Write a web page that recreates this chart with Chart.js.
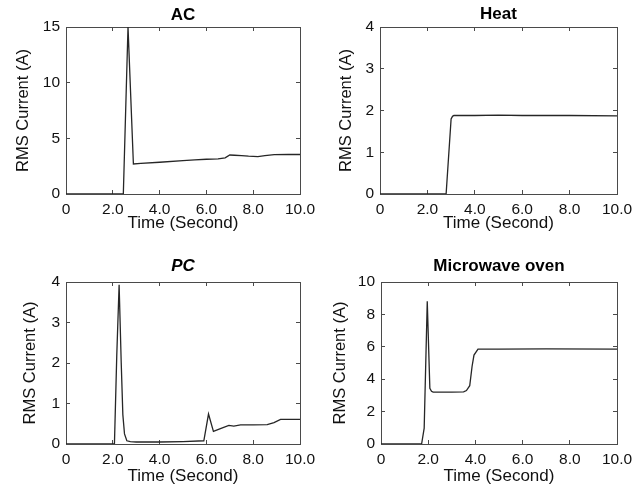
<!DOCTYPE html>
<html>
<head>
<meta charset="utf-8">
<title>RMS current of appliances</title>
<script src="https://cdn.jsdelivr.net/npm/chart.js@4.4.1/dist/chart.umd.min.js"></script>
<style>
  html, body { margin: 0; padding: 0; background: #fff; }
  #wrap { position: relative; width: 638px; height: 488px; }
  #wrap canvas { position: absolute; }
</style>
</head>
<body>
<div id="wrap">
  <canvas id="ac" width="319" height="244" style="left:0;top:0"></canvas>
  <canvas id="heat" width="319" height="244" style="left:319px;top:0"></canvas>
  <canvas id="pc" width="319" height="244" style="left:0;top:244px"></canvas>
  <canvas id="mw" width="319" height="244" style="left:319px;top:244px"></canvas>
</div>
<script>
// time ticks shared by every panel
const timeTicks = [0, 2, 4, 6, 8, 10];

// AC
const acTime    = [0, 2.45, 2.65, 2.88, 3.2, 4.0, 5.0, 5.5, 6.0, 6.5, 6.8, 7.0, 7.2, 7.5, 7.8, 8.2, 8.5, 8.9, 9.5, 10];
const acCurrent = [0, 0, 15, 2.7, 2.75, 2.85, 3.0, 3.06, 3.12, 3.15, 3.25, 3.5, 3.48, 3.45, 3.4, 3.36, 3.45, 3.54, 3.55, 3.55];

// Heat
const heatTime    = [0, 2.79, 3.0, 3.06, 3.12, 4.0, 5.0, 6.0, 8.0, 10];
const heatCurrent = [0, 0, 1.8, 1.86, 1.88, 1.88, 1.89, 1.88, 1.88, 1.87];

// PC
const pcTime    = [0, 2.07, 2.17, 2.27, 2.36, 2.43, 2.5, 2.6, 2.75, 3.0, 4.0, 5.0, 5.89, 6.09, 6.3, 6.6, 6.96, 7.17, 7.46, 8.0, 8.6, 8.89, 9.17, 10];
const pcCurrent = [0, 0, 2.2, 3.93, 2.0, 0.72, 0.25, 0.08, 0.06, 0.05, 0.05, 0.06, 0.08, 0.74, 0.31, 0.38, 0.46, 0.44, 0.47, 0.47, 0.48, 0.53, 0.61, 0.61];

// Microwave oven
const mwTime    = [0, 1.72, 1.83, 1.96, 2.07, 2.14, 2.21, 2.5, 3.0, 3.5, 3.62, 3.76, 3.86, 3.94, 4.11, 5, 7, 10];
const mwCurrent = [0, 0, 0.98, 8.81, 3.44, 3.25, 3.2, 3.2, 3.2, 3.22, 3.3, 3.6, 4.8, 5.49, 5.86, 5.86, 5.87, 5.86];

const FONT = '"Liberation Sans", Arial, Helvetica, sans-serif';
const BOX = '#4a4a4a';

function makePanel(id, p) {
  const data = p.time.map((t, i) => ({ x: t, y: p.current[i] }));
  // matlab style: short tick marks pointing into the plot box, no grid
  const inward = () => ({ drawOnChartArea: false, drawTicks: true, tickLength: -4, color: BOX, lineWidth: 1 });
  const edge = () => ({ display: true, color: BOX, width: 1 });
  const noPad = s => { s.paddingLeft = 0; s.paddingRight = 0; s.paddingTop = 0; s.paddingBottom = 0; };

  new Chart(document.getElementById(id), {
    type: 'line',
    data: {
      datasets: [{
        data: data,
        borderColor: '#262626',
        borderWidth: 1.3,
        pointRadius: 0,
        tension: 0,
        fill: false
      }]
    },
    options: {
      responsive: false,
      animation: false,
      layout: { padding: { left: 0, top: 0, bottom: 0, right: p.padRight } },
      plugins: {
        legend: { display: false },
        tooltip: { enabled: false },
        title: {
          display: true,
          fullSize: false,
          text: p.title,
          color: '#000',
          font: { family: FONT, size: 17, weight: 'bold', style: p.italic ? 'italic' : 'normal', lineHeight: 1.2 },
          padding: { top: p.titleTop, bottom: p.titleBottom }
        }
      },
      scales: {
        x: {
          type: 'linear',
          position: 'bottom',
          min: 0, max: 10,
          afterBuildTicks: s => { s.ticks = timeTicks.map(v => ({ value: v })); },
          ticks: {
            color: '#111', padding: 10, maxRotation: 0, autoSkip: false,
            font: { family: FONT, size: 15.5 },
            callback: v => v === 0 ? '0' : v.toFixed(1)
          },
          grid: inward(),
          border: edge(),
          title: {
            display: true, text: 'Time (Second)', color: '#111',
            font: { family: FONT, size: 17 },
            padding: { top: 0, bottom: p.xTitlePad }
          },
          afterFit: s => { s.height = p.xHeight; noPad(s); }
        },
        x2: {
          type: 'linear',
          position: 'top',
          min: 0, max: 10,
          afterBuildTicks: s => { s.ticks = timeTicks.map(v => ({ value: v })); },
          ticks: { display: false },
          grid: inward(),
          border: edge(),
          afterFit: s => { s.height = 0; noPad(s); }
        },
        y: {
          position: 'left',
          min: 0, max: p.yMax,
          ticks: {
            stepSize: p.yStep, color: '#111', padding: 10,
            font: { family: FONT, size: 15.5 }
          },
          grid: inward(),
          border: edge(),
          title: {
            display: true, text: 'RMS Current (A)', color: '#111',
            font: { family: FONT, size: 16.5 },
            padding: { top: p.yTitlePad, bottom: 0 }
          },
          afterFit: s => { s.width = p.yWidth; noPad(s); }
        },
        y2: {
          position: 'right',
          min: 0, max: p.yMax,
          ticks: { display: false, stepSize: p.yStep },
          grid: inward(),
          border: edge(),
          afterFit: s => { s.width = 0; noPad(s); }
        }
      }
    }
  });
}

makePanel('ac', {
  title: 'AC', time: acTime, current: acCurrent, yMax: 15, yStep: 5,
  yWidth: 66, padRight: 19, xHeight: 50, titleTop: 5, titleBottom: 1.6,
  xTitlePad: 10, yTitlePad: 14
});
makePanel('heat', {
  title: 'Heat', time: heatTime, current: heatCurrent, yMax: 4, yStep: 1,
  yWidth: 61, padRight: 21, xHeight: 50, titleTop: 4, titleBottom: 2.6,
  xTitlePad: 10, yTitlePad: 18
});
makePanel('pc', {
  title: 'PC', italic: true, time: pcTime, current: pcCurrent, yMax: 4, yStep: 1,
  yWidth: 66, padRight: 19, xHeight: 44, titleTop: 12, titleBottom: 5.6,
  xTitlePad: 1, yTitlePad: 21
});
makePanel('mw', {
  title: 'Microwave oven', time: mwTime, current: mwCurrent, yMax: 10, yStep: 2,
  yWidth: 62, padRight: 21, xHeight: 44, titleTop: 12, titleBottom: 5.6,
  xTitlePad: 1, yTitlePad: 12
});
</script>
</body>
</html>
